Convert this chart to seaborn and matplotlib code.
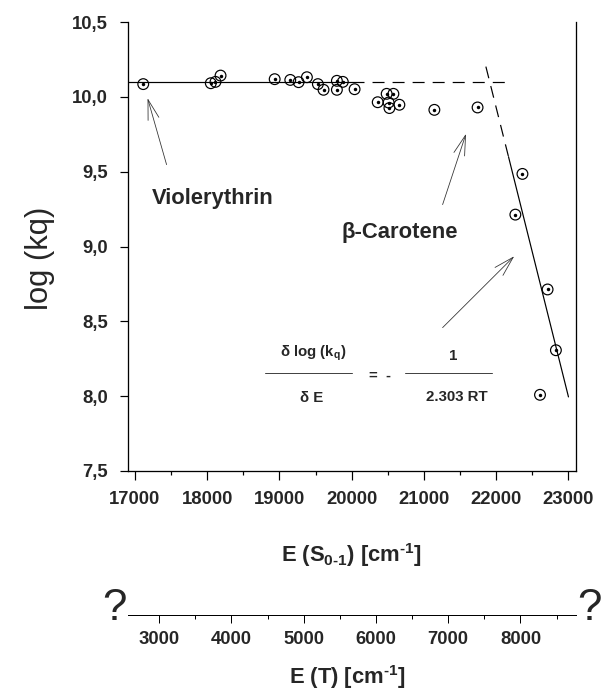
import matplotlib
matplotlib.use("Agg")
import matplotlib.pyplot as plt
import matplotlib.transforms as mtransforms
from matplotlib.ticker import FixedLocator, MultipleLocator
import seaborn as sns
import pandas as pd

# ---------------- data ----------------
e_s01 = [17115, 18050, 18115, 18185, 18934, 19150, 19265, 19380, 19532, 19610,
         19795, 19795, 19877, 20040, 20360, 20484, 20577, 20511, 20522, 20660,
         21144, 21742, 22363, 22265, 22711, 22826, 22606]
log_kq = [10.085, 10.091, 10.100, 10.142, 10.118, 10.113, 10.098, 10.131, 10.085, 10.047,
          10.107, 10.047, 10.100, 10.051, 9.964, 10.020, 10.020, 9.962, 9.925, 9.947,
          9.913, 9.929, 9.485, 9.213, 8.713, 8.307, 8.009]

# fitted lines
plateau_solid_x = [16900, 20000]
plateau_solid_y = [10.1, 10.1]
plateau_dash_x = [20000, 22200]
plateau_dash_y = [10.1, 10.1]
steep_dash_x = [21857, 22170]
steep_dash_y = [10.202, 9.6]
steep_solid_x = [22170, 23000]
steep_solid_y = [9.6, 7.995]

x_ticks = [17000, 18000, 19000, 20000, 21000, 22000, 23000]
x_tick_labels = ["17000", "18000", "19000", "20000", "21000", "22000", "23000"]
y_ticks = [7.5, 8.0, 8.5, 9.0, 9.5, 10.0, 10.5]
y_tick_labels = ["7,5", "8,0", "8,5", "9,0", "9,5", "10,0", "10,5"]
t_ticks = [3000, 4000, 5000, 6000, 7000, 8000]
t_tick_labels = ["3000", "4000", "5000", "6000", "7000", "8000"]

# ---------------- style ----------------
sns.set_style("white")
plt.rcParams["font.family"] = ["Liberation Sans", "DejaVu Sans"]
plt.rcParams["mathtext.fontset"] = "custom"
plt.rcParams["mathtext.rm"] = "Liberation Sans:bold"
plt.rcParams["mathtext.it"] = "Liberation Sans:bold"
plt.rcParams["mathtext.bf"] = "Liberation Sans:bold"
plt.rcParams["mathtext.sf"] = "Liberation Sans:bold"
plt.rcParams["mathtext.default"] = "rm"

W_PX, H_PX = 601, 697
fig = plt.figure(figsize=(W_PX / 72, H_PX / 72), dpi=72)
L, Wd = 127.7 / W_PX, 448 / W_PX
ax = fig.add_axes([L, 226 / H_PX, Wd, 449 / H_PX])

df = pd.DataFrame({"E": e_s01, "logkq": log_kq})

# lines
ax.plot(plateau_solid_x, plateau_solid_y, color="black", lw=1.2)
ax.plot(plateau_dash_x, plateau_dash_y, color="black", lw=1.2, dashes=(10, 6.7))
ax.plot(steep_dash_x, steep_dash_y, color="black", lw=1.2, dashes=(10, 6.7))
ax.plot(steep_solid_x, steep_solid_y, color="black", lw=1.2)

# markers: open circle with dot
sns.scatterplot(data=df, x="E", y="logkq", ax=ax, s=115, marker="o",
                facecolors="none", edgecolors="black", linewidth=1.2, zorder=3)
sns.scatterplot(data=df, x="E", y="logkq", ax=ax, s=12, marker="o",
                color="black", linewidth=0, zorder=4)

ax.set_xlim(16900, 23100)
ax.set_ylim(7.5, 10.5)
ax.xaxis.set_major_locator(FixedLocator(x_ticks))
ax.set_xticklabels(x_tick_labels)
ax.xaxis.set_minor_locator(MultipleLocator(500))
ax.yaxis.set_major_locator(FixedLocator(y_ticks))
ax.set_yticklabels(y_tick_labels)

for s in ["left", "bottom", "right"]:
    ax.spines[s].set_visible(True)
    ax.spines[s].set_linewidth(1.3)
    ax.spines[s].set_color("black")
ax.spines["top"].set_visible(False)

ax.tick_params(axis="x", which="major", direction="out", length=8.5, width=1.2,
               color="black", pad=12, labelsize=18.5, bottom=True)
ax.tick_params(axis="x", which="minor", direction="out", length=4, width=1.2,
               color="black", bottom=True)
ax.tick_params(axis="y", which="major", direction="out", length=8, width=1.2,
               color="black", pad=12, labelsize=18.5, left=True)
for lab in ax.get_xticklabels() + ax.get_yticklabels():
    lab.set_fontweight("bold")

ax.set_xlabel(r"E (S$_{0\text{-}1}$) [cm$^{\text{-}1}$]", fontsize=22, fontweight="bold")
ax.xaxis.set_label_coords(0.5, (H_PX - 562) / H_PX,
                          transform=mtransforms.blended_transform_factory(ax.transAxes, fig.transFigure))
ax.xaxis.label.set_va("baseline")
ax.set_ylabel("log (kq)", fontsize=31)
ax.yaxis.set_label_coords(-(127.7 - 40) / 448, (471 - 258) / 449)
ax.yaxis.label.set_va("center")

# annotations
ax.text(17231, 9.287, "Violerythrin", fontsize=22, fontweight="bold", ha="left", va="baseline")
ax.text(19859, 9.06, "β-Carotene", fontsize=22, fontweight="bold", ha="left", va="baseline")

arrow_kw = dict(arrowstyle="->,head_length=1.0,head_width=0.28", mutation_scale=20,
                lw=0.8, color="#333333", shrinkA=0, shrinkB=0)
ax.annotate("", xy=(17175, 9.991), xytext=(17438, 9.547), arrowprops=arrow_kw)
ax.annotate("", xy=(21582, 9.753), xytext=(21258, 9.28), arrowprops=arrow_kw)
ax.annotate("", xy=(22249, 8.935), xytext=(21258, 8.458), arrowprops=arrow_kw)

# formula
ax.text(19462, 8.265, r"δ log (k$_{q}$)", fontsize=15, fontweight="bold", ha="center", va="baseline")
ax.plot([18796, 20007], [8.158, 8.158], color="#444444", lw=1)
ax.text(19452, 7.958, "δ E", fontsize=15, fontweight="bold", ha="center", va="baseline")
ax.text(20391, 8.135, "=  -", fontsize=15, fontweight="bold", ha="center", va="center")
ax.text(21402, 8.24, "1", fontsize=15, fontweight="bold", ha="center", va="baseline")
ax.plot([20743, 21941], [8.158, 8.158], color="#444444", lw=1)
ax.text(21448, 7.965, "2.303 RT", fontsize=15, fontweight="bold", ha="center", va="baseline")

# ---------------- second axis E(T) ----------------
ax2 = fig.add_axes([L, (H_PX - 615) / H_PX, Wd, 1e-4])
ax2.set_xlim(2564, 8764)
ax2.set_yticks([])
ax2.patch.set_alpha(0)
for s in ["left", "right", "top"]:
    ax2.spines[s].set_visible(False)
ax2.spines["bottom"].set_visible(True)
ax2.spines["bottom"].set_linewidth(1.0)
ax2.spines["bottom"].set_color("black")
ax2.xaxis.set_major_locator(FixedLocator(t_ticks))
ax2.set_xticklabels(t_tick_labels)
ax2.xaxis.set_minor_locator(MultipleLocator(500))
ax2.tick_params(axis="x", which="major", direction="out", length=8, width=1.0,
                color="black", pad=8, labelsize=18.5, bottom=True)
ax2.tick_params(axis="x", which="minor", direction="out", length=4, width=1.0,
                color="black", bottom=True)
for lab in ax2.get_xticklabels():
    lab.set_fontweight("bold")
ax2.set_xlabel(r"E (T) [cm$^{\text{-}1}$]", fontsize=22, fontweight="bold")
ax2.xaxis.set_label_coords(0.491, (H_PX - 684) / H_PX,
                           transform=mtransforms.blended_transform_factory(ax2.transAxes, fig.transFigure))
ax2.xaxis.label.set_va("baseline")

fig.text(114 / W_PX, (H_PX - 620) / H_PX, "?", fontsize=44, ha="center", va="baseline")
fig.text(589 / W_PX, (H_PX - 620) / H_PX, "?", fontsize=44, ha="center", va="baseline")

fig.savefig("out.png", dpi=72)
